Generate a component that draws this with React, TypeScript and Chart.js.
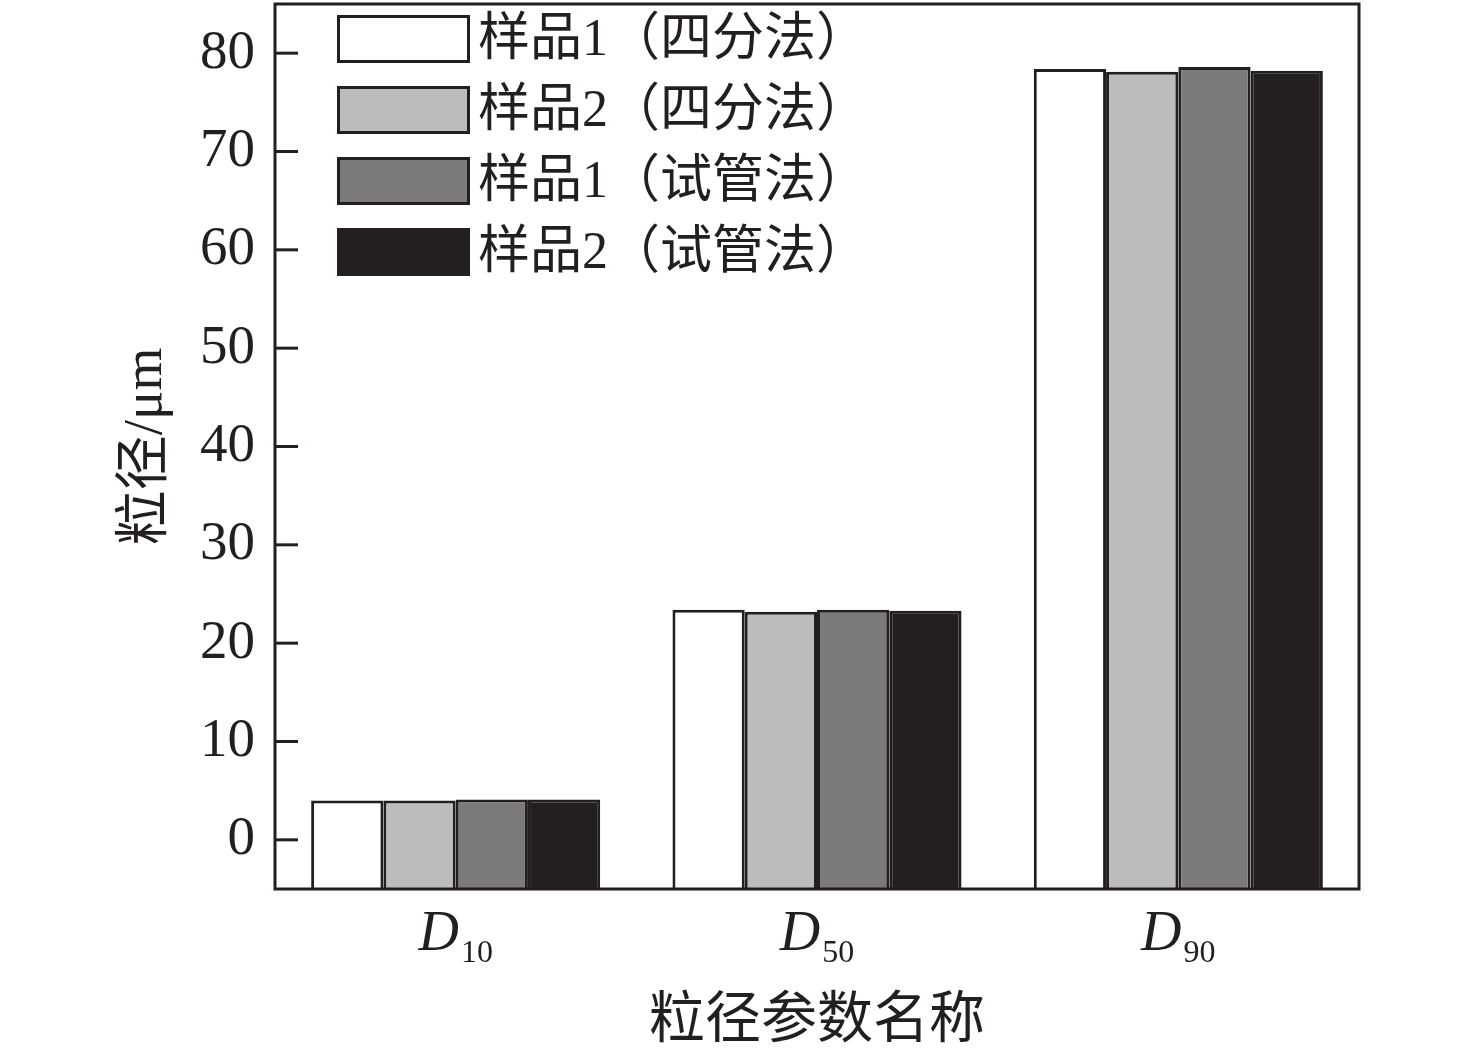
import React, { useEffect, useRef } from 'react';
import { Chart, registerables } from 'chart.js';

Chart.register(...registerables);

// categories (first letter italic, rest drawn as subscript)
const categories = ['D10', 'D50', 'D90'];
const seriesNames = ['样品1（四分法）', '样品2（四分法）', '样品1（试管法）', '样品2（试管法）'];
const sample1Quarter = [4.0, 23.4, 78.4];
const sample2Quarter = [4.0, 23.2, 78.1];
const sample1Tube = [4.1, 23.4, 78.6];
const sample2Tube = [4.1, 23.3, 78.2];
const yTicks = [0, 10, 20, 30, 40, 50, 60, 70, 80];
const yMin = -5;
const yMax = 85;
const xTitle = '粒径参数名称';
const yTitle = '粒径/μm';

const fills = ['#ffffff', '#bcbcbc', '#7b797a', '#231f20'];
const ink = '#231f20';
const family = '"Liberation Serif", "Noto Sans CJK SC", serif';

const decorations = {
    id: 'decorations',
    afterDraw(chart: any) {
        const { ctx, chartArea: a, scales } = chart;
        const xs = scales.x;
        const ys = scales.y;
        ctx.save();
        ctx.strokeStyle = ink;
        ctx.fillStyle = ink;
        ctx.lineWidth = 3;

        // frame around the plot
        ctx.strokeRect(a.left, a.top, a.right - a.left, a.bottom - a.top);

        // inward tick marks on the left axis
        yTicks.forEach((v) => {
            const py = ys.getPixelForValue(v);
            ctx.beginPath();
            ctx.moveTo(a.left, py);
            ctx.lineTo(a.left + 23, py);
            ctx.stroke();
        });

        // x labels: italic D with subscript number
        ctx.textAlign = 'left';
        ctx.textBaseline = 'alphabetic';
        categories.forEach((c, i) => {
            const cx = xs.getPixelForValue(i);
            const main = c.slice(0, 1);
            const sub = c.slice(1);
            ctx.font = `italic 56px ${family}`;
            const wm = ctx.measureText(main).width;
            ctx.font = `32px ${family}`;
            const ws = ctx.measureText(sub).width;
            const start = cx - (wm + ws + 2) / 2;
            ctx.font = `italic 56px ${family}`;
            ctx.fillText(main, start, a.bottom + 61);
            ctx.font = `32px ${family}`;
            ctx.fillText(sub, start + wm + 2, a.bottom + 73);
        });

        // axis titles
        ctx.textAlign = 'center';
        ctx.textBaseline = 'middle';
        ctx.font = `56px ${family}`;
        ctx.fillText(xTitle, (a.left + a.right) / 2, a.bottom + 133);
        ctx.save();
        ctx.translate(a.left - 128, (a.top + a.bottom) / 2);
        ctx.rotate(-Math.PI / 2);
        ctx.font = `55px ${family}`;
        ctx.fillText(yTitle, 0, 0);
        ctx.restore();

        // legend inside the top-left corner
        ctx.textAlign = 'left';
        ctx.font = `52px ${family}`;
        chart.data.datasets.forEach((ds: any, i: number) => {
            const bx = a.left + 62;
            const by = a.top + 11 + i * 71;
            ctx.fillStyle = ds.backgroundColor;
            ctx.fillRect(bx, by, 133, 48);
            ctx.strokeStyle = ink;
            ctx.strokeRect(bx + 1.5, by + 1.5, 130, 45);
            ctx.fillStyle = ink;
            ctx.fillText(ds.label, bx + 141, by + 26);
        });
        ctx.restore();
    },
};

const App: React.FC = () => {
    const chartRef = useRef<HTMLCanvasElement | null>(null);

    useEffect(() => {
        document.body.style.margin = '0';
        if (!chartRef.current) return;

        const series = [sample1Quarter, sample2Quarter, sample1Tube, sample2Tube];
        const chartData = {
            labels: categories,
            datasets: series.map((values, i) => ({
                label: seriesNames[i],
                data: values,
                base: yMin,
                backgroundColor: fills[i],
                borderColor: ink,
                borderWidth: 3,
                borderSkipped: 'start' as const,
                categoryPercentage: 0.8,
                barPercentage: 1.0,
            })),
        };

        const myChart = new Chart(chartRef.current, {
            type: 'bar',
            data: chartData,
            options: {
                responsive: false,
                animation: false,
                layout: { padding: { left: 0, top: 4, right: 117, bottom: 168 } },
                plugins: {
                    legend: { display: false },
                    tooltip: { enabled: false },
                },
                scales: {
                    x: {
                        type: 'category',
                        display: false,
                        offset: true,
                    },
                    y: {
                        min: yMin,
                        max: yMax,
                        afterBuildTicks: (scale: any) => {
                            scale.ticks = yTicks.map((v) => ({ value: v }));
                        },
                        afterFit: (scale: any) => {
                            scale.width = 275;
                            scale.paddingTop = 0;
                            scale.paddingBottom = 0;
                        },
                        ticks: {
                            color: ink,
                            padding: 20,
                            font: { family, size: 55 },
                        },
                        grid: { display: false, drawTicks: false },
                        border: { display: false },
                    },
                },
            },
            plugins: [decorations],
        });

        return () => {
            myChart.destroy();
        };
    }, []);

    return (
        <div style={{ width: '1476px', height: '1057px', background: '#fff' }}>
            <canvas ref={chartRef} width={1476} height={1057} style={{ display: 'block' }} />
        </div>
    );
};

export default App;
